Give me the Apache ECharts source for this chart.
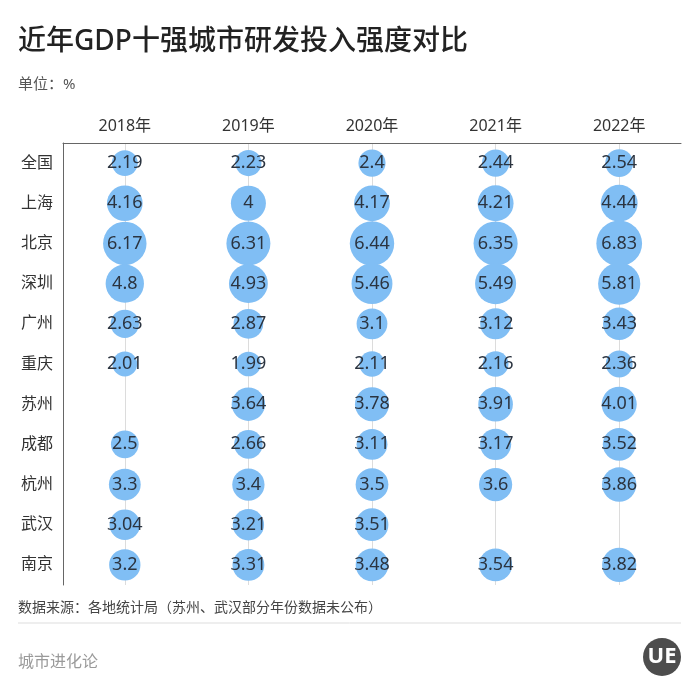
<!DOCTYPE html>
<html>
<head>
<meta charset="utf-8">
<script src="https://cdn.jsdelivr.net/npm/echarts@6/dist/echarts.min.js"></script>
<style>
html,body{margin:0;padding:0;background:#fff;}
#main{width:700px;height:700px;}
</style>
</head>
<body>
<div id="main"></div>
<script>
var years = ['2018年','2019年','2020年','2021年','2022年'];
var cities = ['全国','上海','北京','深圳','广州','重庆','苏州','成都','杭州','武汉','南京'];
var v2018 = [2.19,4.16,6.17,4.8,2.63,2.01,null,2.5,3.3,3.04,3.2];
var v2019 = [2.23,4,6.31,4.93,2.87,1.99,3.64,2.66,3.4,3.21,3.31];
var v2020 = [2.4,4.17,6.44,5.46,3.1,2.11,3.78,3.11,3.5,3.51,3.48];
var v2021 = [2.44,4.21,6.35,5.49,3.12,2.16,3.91,3.17,3.6,null,3.54];
var v2022 = [2.54,4.44,6.83,5.81,3.43,2.36,4.01,3.52,3.86,null,3.82];
var titleText = '近年GDP十强城市研发投入强度对比';
var unitText = '单位：%';
var sourceText = '数据来源：各地统计局（苏州、武汉部分年份数据未公布）';
var brandText = '城市进化论';

var cols = [v2018, v2019, v2020, v2021, v2022];
var points = [];
cols.forEach(function (col, xi) {
  col.forEach(function (v, yi) {
    if (v !== null) points.push([xi, yi, v]);
  });
});

var FONT = "'Noto Sans','Noto Sans CJK SC',sans-serif";
var chart = echarts.init(document.getElementById('main'), null, {renderer: 'canvas'});
chart.setOption({
  backgroundColor: '#fff',
  animation: false,
  textStyle: {fontFamily: FONT},
  grid: {left: 63, right: 19, top: 143, bottom: 115},
  xAxis: {
    type: 'category',
    position: 'top',
    data: years,
    axisLine: {lineStyle: {color: '#666', width: 1}},
    axisTick: {alignWithLabel: true, length: 5, lineStyle: {color: '#666'}},
    axisLabel: {color: '#333', fontSize: 16, margin: 9, fontFamily: FONT},
    splitLine: {show: false}
  },
  yAxis: {
    type: 'category',
    inverse: true,
    data: cities,
    axisLine: {lineStyle: {color: '#666', width: 1}},
    axisTick: {alignWithLabel: true, length: 5, lineStyle: {color: '#666'}},
    axisLabel: {color: '#333', fontSize: 16, margin: 10, fontFamily: FONT},
    splitLine: {show: false}
  },
  series: [
    {
      type: 'scatter',
      data: [],
      z: 0,
      zlevel: 0,
      silent: true,
      markLine: {
        silent: true,
        z: 0,
        symbol: ['none', 'none'],
        label: {show: false},
        lineStyle: {color: '#dcdcdc', type: 'solid', width: 1},
        data: years.map(function (y) { return {xAxis: y}; })
      }
    },
    {
      type: 'scatter',
      z: 3,
      zlevel: 1,
      data: points,
      symbolSize: function (val) { return 17.5 * Math.sqrt(val[2]); },
      itemStyle: {color: '#80bef4', opacity: 1},
      label: {
        show: true,
        position: 'inside',
        color: '#2b3440',
        fontSize: 18,
        fontFamily: FONT,
        formatter: function (p) { return String(p.value[2]); }
      }
    }
  ],
  graphic: [
    {type: 'text', left: 18, top: 28, style: {text: titleText, fontSize: 28, fontFamily: FONT, fill: '#222', fontWeight: 500}},
    {type: 'text', left: 18, top: 77, style: {text: unitText, fontSize: 15, fontFamily: FONT, fill: '#555'}},
    {type: 'text', left: 18, top: 601, style: {text: sourceText, fontSize: 14, fontFamily: FONT, fill: '#444'}},
    {type: 'line', shape: {x1: 18, y1: 623, x2: 681, y2: 623}, style: {stroke: '#dddddd', lineWidth: 1}},
    {type: 'text', left: 18, top: 654, style: {text: brandText, fontSize: 16, fontFamily: FONT, fill: '#9a9a9a'}},
    {type: 'circle', shape: {cx: 662, cy: 657, r: 19}, style: {fill: '#4d4d4d'}},
    {type: 'text', x: 662, y: 657, style: {text: 'UE', fontSize: 22, fontWeight: 'bold', fontFamily: FONT, fill: '#fff', textAlign: 'center', textVerticalAlign: 'middle'}}
  ]
});
</script>
</body>
</html>
